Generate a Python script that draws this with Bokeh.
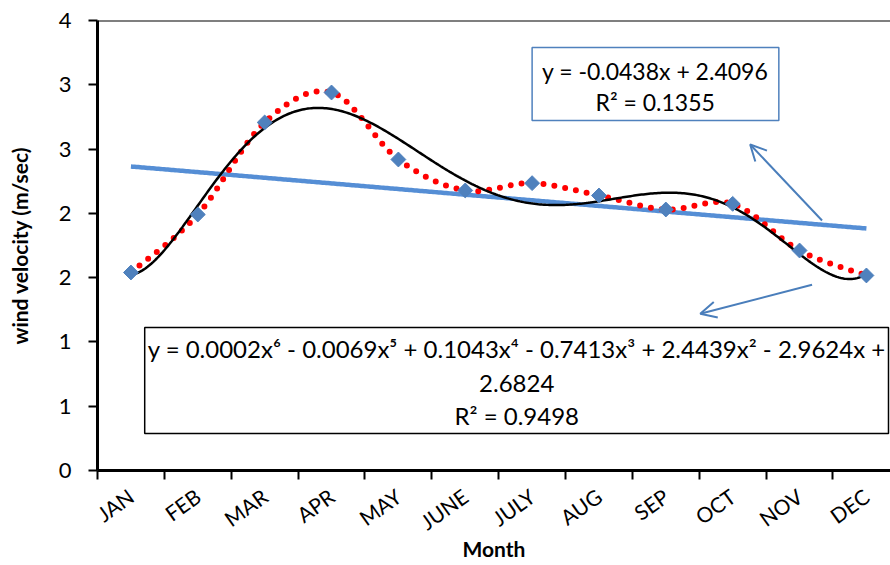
import numpy as np
from bokeh.plotting import figure
from bokeh.models import (Range1d, FixedTicker, Span, Arrow, OpenHead)
from bokeh.core.properties import value
from bokeh.embed import file_html
from bokeh.resources import INLINE

# ---- data ----
months = ["JAN", "FEB", "MAR", "APR", "MAY", "JUNE", "JULY", "AUG", "SEP", "OCT", "NOV", "DEC"]
month_index = [1, 2, 3, 4, 5, 6, 7, 8, 9, 10, 11, 12]
wind = [1.540, 1.991, 2.707, 2.940, 2.419, 2.178, 2.235, 2.139, 2.030, 2.074, 1.711, 1.517]
y_tick_values = [0, 0.5, 1, 1.5, 2, 2.5, 3, 3.5]
y_tick_labels = ["0", "1", "1", "2", "2", "3", "3", "4"]
linear_eq = ["y = -0.0438x + 2.4096", "R\u00b2 = 0.1355"]
poly_eq = ["y = 0.0002x\u2076 - 0.0069x\u2075 + 0.1043x\u2074 - 0.7413x\u00b3 + 2.4439x\u00b2 - 2.9624x +",
           "2.6824", "R\u00b2 = 0.9498"]

x = np.array(month_index, dtype=float)
y = np.array(wind, dtype=float)

# trendlines computed from data
lin = np.polyfit(x, y, 1)
poly = np.polyfit(x, y, 6)
xf = np.linspace(1, 12, 400)
lin_y = np.polyval(lin, xf)
poly_y = np.polyval(poly, xf)

# Excel-like smoothed line (Bezier with 1/6 tension) through data points
def smooth(px, py, n=30):
    P = np.column_stack([px, py])
    out = []
    m = len(P)
    for i in range(m - 1):
        p0 = P[i - 1] if i > 0 else P[i]
        p1 = P[i]
        p2 = P[i + 1]
        p3 = P[i + 2] if i + 2 < m else P[i + 1]
        c1 = p1 + (p2 - p0) / 6.0
        c2 = p2 - (p3 - p1) / 6.0
        t = np.linspace(0, 1, n, endpoint=(i == m - 2))[:, None]
        b = ((1 - t) ** 3) * p1 + 3 * ((1 - t) ** 2) * t * c1 + 3 * (1 - t) * t ** 2 * c2 + t ** 3 * p2
        out.append(b)
    B = np.vstack(out)
    return B[:, 0], B[:, 1]

sx, sy = smooth(x, y)

FONT = "Lato"

p = figure(width=890, height=565, output_backend="svg", toolbar_location=None,
           x_range=Range1d(0.5, 12.36), y_range=Range1d(0, 3.5),
           min_border_left=97, min_border_right=0, min_border_top=20, min_border_bottom=95)
p.outline_line_color = None
p.xgrid.visible = False
p.ygrid.visible = False
p.background_fill_color = "white"
p.border_fill_color = "white"

# axes
p.yaxis.ticker = FixedTicker(ticks=y_tick_values)
p.yaxis.major_label_overrides = {v: l for v, l in zip(y_tick_values, y_tick_labels)}
p.yaxis.minor_tick_line_color = None
p.yaxis.major_tick_in = 0
p.yaxis.major_tick_out = 9
p.yaxis.major_tick_line_width = 2
p.yaxis.axis_line_width = 3
p.yaxis.major_label_standoff = 17
p.yaxis.major_label_text_font = FONT
p.yaxis.major_label_text_font_size = "22px"
p.yaxis.major_label_text_color = "black"
p.yaxis.axis_label = "wind velocity (m/sec)"
p.yaxis.axis_label_text_font = FONT
p.yaxis.axis_label_text_font_style = "bold"
p.yaxis.axis_label_text_font_size = "21px"
p.yaxis.axis_label_text_color = "black"
p.yaxis.axis_label_standoff = 24

p.xaxis.ticker = FixedTicker(ticks=month_index, minor_ticks=[v + 0.5 for v in [0] + month_index])
p.xaxis.major_label_overrides = {v: m for v, m in zip(month_index, months)}
p.xaxis.major_tick_in = 0
p.xaxis.major_tick_out = 0
p.xaxis.minor_tick_in = 0
p.xaxis.minor_tick_out = 9
p.xaxis.minor_tick_line_width = 2
p.xaxis.minor_tick_line_color = "black"
p.xaxis.axis_line_width = 3
p.xaxis.major_label_orientation = 0.62
p.xaxis.major_label_standoff = 14
p.xaxis.major_label_text_font = FONT
p.xaxis.major_label_text_font_size = "21px"
p.xaxis.major_label_text_color = "black"
p.xaxis.axis_label = "Month"
p.xaxis.axis_label_text_font = FONT
p.xaxis.axis_label_text_font_style = "bold"
p.xaxis.axis_label_text_font_size = "21px"
p.xaxis.axis_label_text_color = "black"
p.xaxis.axis_label_standoff = -11

p.add_layout(Span(location=3.5, dimension="width", line_color="black", line_width=2))

# series
p.line(xf, lin_y, line_color="#558ED5", line_width=4.5)
p.line(sx, sy, line_color="#FF0000", line_width=6, line_dash="0 11", line_cap="round")
p.line(xf, poly_y, line_color="black", line_width=2.5)
p.scatter(x, y, marker="square", angle=np.pi / 4, size=10.5,
          fill_color="#4F81BD", line_color="#4F81BD")

# equation boxes (positions in data units)
p.quad(left=[7.0], right=[10.69], top=[3.29], bottom=[2.722],
       fill_color="white", line_color="#4F81BD", line_width=1.5)
p.text(x=[8.84, 8.84], y=[3.111, 2.870], text=linear_eq, text_align="center",
       text_baseline="middle", text_font=value(FONT), text_font_size="23px", text_color="black")

p.quad(left=[1.206], right=[12.33], top=[1.112], bottom=[0.288],
       fill_color="white", line_color="black", line_width=1.5)
p.text(x=[6.77, 6.77, 6.77], y=[0.949, 0.677, 0.428], text=poly_eq, text_align="center",
       text_baseline="middle", text_font=value(FONT), text_font_size="24px", text_color="black")

# arrows
p.add_layout(Arrow(x_start=11.336, y_start=1.944, x_end=10.261, y_end=2.536,
                   line_color="#4A7EBB", line_width=2,
                   end=OpenHead(size=16, line_color="#4A7EBB", line_width=2)))
p.add_layout(Arrow(x_start=11.187, y_start=1.444, x_end=9.515, y_end=1.219,
                   line_color="#4A7EBB", line_width=2,
                   end=OpenHead(size=16, line_color="#4A7EBB", line_width=2)))

open("out.html", "w").write(file_html(p, INLINE))
